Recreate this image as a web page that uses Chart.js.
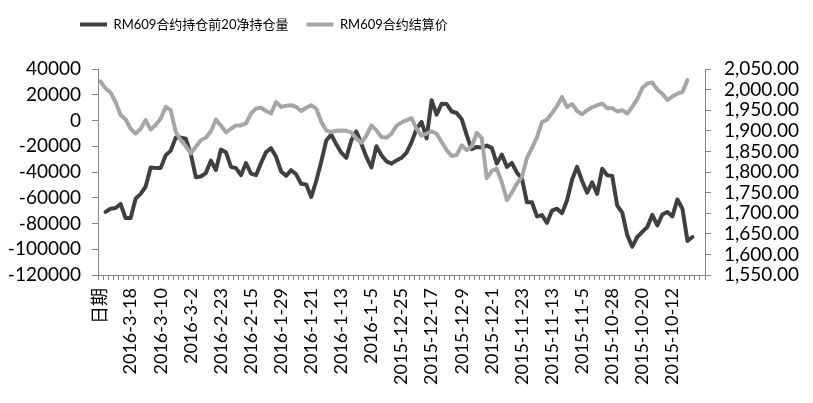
<!DOCTYPE html>
<html><head><meta charset="utf-8">
<script src="https://cdn.jsdelivr.net/npm/chart.js@4.4.0/dist/chart.umd.min.js"></script>
<style>html,body{margin:0;padding:0;background:#fff;}#wrap{width:813px;height:403px;}</style>
</head><body><div id="wrap"><canvas id="c" width="813" height="403"></canvas></div>
<script>
const categories = ['日期',
'2016-3-25','2016-3-24','2016-3-23','2016-3-22','2016-3-21','2016-3-18','2016-3-17','2016-3-16','2016-3-15','2016-3-14','2016-3-11','2016-3-10',
'2016-3-9','2016-3-8','2016-3-7','2016-3-4','2016-3-3','2016-3-2','2016-3-1','2016-2-29','2016-2-26','2016-2-25','2016-2-24','2016-2-23',
'2016-2-22','2016-2-19','2016-2-18','2016-2-17','2016-2-16','2016-2-15','2016-2-5','2016-2-4','2016-2-3','2016-2-2','2016-2-1','2016-1-29',
'2016-1-28','2016-1-27','2016-1-26','2016-1-25','2016-1-22','2016-1-21','2016-1-20','2016-1-19','2016-1-18','2016-1-15','2016-1-14','2016-1-13',
'2016-1-12','2016-1-11','2016-1-8','2016-1-7','2016-1-6','2016-1-5','2016-1-4','2015-12-31','2015-12-30','2015-12-29','2015-12-28','2015-12-25',
'2015-12-24','2015-12-23','2015-12-22','2015-12-21','2015-12-18','2015-12-17','2015-12-16','2015-12-15','2015-12-14','2015-12-11','2015-12-10','2015-12-9',
'2015-12-8','2015-12-7','2015-12-4','2015-12-3','2015-12-2','2015-12-1','2015-11-30','2015-11-27','2015-11-26','2015-11-25','2015-11-24','2015-11-23',
'2015-11-20','2015-11-19','2015-11-18','2015-11-17','2015-11-16','2015-11-13','2015-11-12','2015-11-11','2015-11-10','2015-11-9','2015-11-6','2015-11-5',
'2015-11-4','2015-11-3','2015-11-2','2015-10-30','2015-10-29','2015-10-28','2015-10-27','2015-10-26','2015-10-23','2015-10-22','2015-10-21','2015-10-20',
'2015-10-19','2015-10-16','2015-10-15','2015-10-14','2015-10-13','2015-10-12','2015-10-9','2015-10-8','2015-9-30','2015-9-29','',''];

const netPosition = [null,
-71000,-68500,-68000,-64800,-75800,-75800,-60700,-57000,-51300,-36500,-36800,-36800,
-27000,-23400,-13300,-13300,-14200,-26000,-44000,-43500,-40800,-31200,-38500,-22600,
-24600,-36000,-37000,-42500,-33000,-41200,-42500,-33000,-24500,-21500,-28200,-39600,
-43000,-38600,-41800,-49200,-49700,-59400,-47000,-32000,-15500,-11000,-18500,-25000,
-29000,-15300,-8500,-18000,-28300,-36500,-20000,-27000,-31700,-33500,-31000,-29000,
-25000,-17000,-6500,-1000,-14000,15800,4600,13000,12800,7000,5800,1000,
-11400,-22300,-20500,-21000,-19500,-21300,-33500,-26500,-36000,-33000,-40500,-45000,
-63500,-63500,-74500,-73500,-79500,-70000,-68500,-72000,-62000,-46000,-36000,-47000,
-56000,-48000,-57000,-37500,-42500,-43000,-66000,-71500,-89000,-98000,-90500,-86500,
-82700,-73300,-81500,-73000,-71000,-74500,-61300,-68500,-93500,-90500,null,null];

const settlePrice = [2020,
2003,1993,1970,1938,1928,1905,1893,1905,1926,1903,1914,1930,
1958,1950,1897,1877,1863,1845,1861,1877,1883,1899,1927,1913,
1896,1905,1913,1913,1918,1942,1954,1956,1948,1942,1970,1958,
1961,1962,1958,1948,1956,1962,1954,1922,1901,1897,1900,1901,
1900,1896,1881,1871,1888,1913,1901,1885,1883,1893,1912,1920,
1926,1931,1905,1888,1893,1899,1893,1873,1853,1839,1841,1865,
1853,1862,1895,1882,1785,1803,1808,1775,1732,1750,1772,1788,
1834,1858,1884,1921,1927,1943,1960,1982,1958,1965,1948,1940,
1950,1957,1962,1966,1955,1955,1947,1950,1942,1958,1977,2004,
2015,2017,2000,1990,1975,1983,1990,1994,2023,null,null,null];

const seriesNames = ['RM609合约持仓前20净持仓量','RM609合约结算价'];
const leftAxisRange = [-120000, 40000, 20000];
const rightAxisRange = [1550, 2050, 50];

const FONT = "Lato, 'Noto Sans CJK SC', sans-serif";
const AXIS = '#868686';

const legendPlace = {
  id: 'legendPlace',
  beforeLayout(chart) {
    const lg = chart.legend;
    if (lg && !lg._fitWrapped) {
      const orig = lg.fit.bind(lg);
      lg.fit = function () { orig(); this.height = 69; };
      lg._fitWrapped = true;
    }
  },
  afterLayout(chart) {
    const lg = chart.legend;
    if (lg) { lg.left = 62; lg.top = 0; }
  }
};

new Chart(document.getElementById('c'), {
  type: 'line',
  data: {
    labels: categories,
    datasets: [
      { label: seriesNames[0], data: netPosition, yAxisID: 'y', borderColor: '#404040', backgroundColor: '#404040',
        borderWidth: 4, pointRadius: 0, tension: 0, borderJoinStyle: 'round', borderCapStyle: 'round', order: 1 },
      { label: seriesNames[1], data: settlePrice, yAxisID: 'y1', borderColor: '#a6a6a6', backgroundColor: '#a6a6a6',
        borderWidth: 4, pointRadius: 0, tension: 0, borderJoinStyle: 'round', borderCapStyle: 'round', order: 0 }
    ]
  },
  options: {
    responsive: false,
    animation: false,
    devicePixelRatio: 1,
    layout: { padding: 0 },
    plugins: {
      tooltip: { enabled: false },
      legend: {
        display: true, position: 'top', align: 'start',
        labels: {
          boxWidth: 27, boxHeight: 4, padding: 18, color: '#000',
          font: { family: FONT, size: 13 },
          sort: (a, b) => a.datasetIndex - b.datasetIndex,
          generateLabels(chart) {
            const items = Chart.defaults.plugins.legend.labels.generateLabels(chart);
            items.forEach(it => { it.lineWidth = 0; });
            return items;
          }
        }
      }
    },
    scales: {
      x: {
        type: 'category',
        offset: true,
        ticks: {
          autoSkip: false, maxRotation: 90, minRotation: 90, color: '#000', padding: 8,
          font: { family: FONT, size: 18 },
          callback(v, i) { return i % 6 === 0 ? this.getLabelForValue(v) : ''; }
        },
        grid: { drawOnChartArea: false, drawTicks: true, tickLength: 5, color: AXIS, offset: true },
        border: { color: AXIS, width: 1 },
        afterFit(s) { s.height = 128; }
      },
      y: {
        position: 'left', min: leftAxisRange[0], max: leftAxisRange[1],
        ticks: { autoSkip: false, stepSize: leftAxisRange[2], color: '#000', padding: 11, font: { family: FONT, size: 19 },
          callback: v => String(v) },
        grid: { drawOnChartArea: false, drawTicks: true, tickLength: 6, color: AXIS },
        border: { color: AXIS, width: 1 },
        afterFit(s) { s.width = 98; }
      },
      y1: {
        position: 'right', min: rightAxisRange[0], max: rightAxisRange[1],
        ticks: { autoSkip: false, stepSize: rightAxisRange[2], color: '#000', padding: 13, font: { family: FONT, size: 19 },
          callback: v => Number(v).toLocaleString('en-US', { minimumFractionDigits: 2, maximumFractionDigits: 2 }) },
        grid: { drawOnChartArea: false, drawTicks: true, tickLength: 6, color: AXIS },
        border: { color: AXIS, width: 1 },
        afterFit(s) { s.width = 108; }
      }
    }
  },
  plugins: [legendPlace]
});
</script>
</body></html>
